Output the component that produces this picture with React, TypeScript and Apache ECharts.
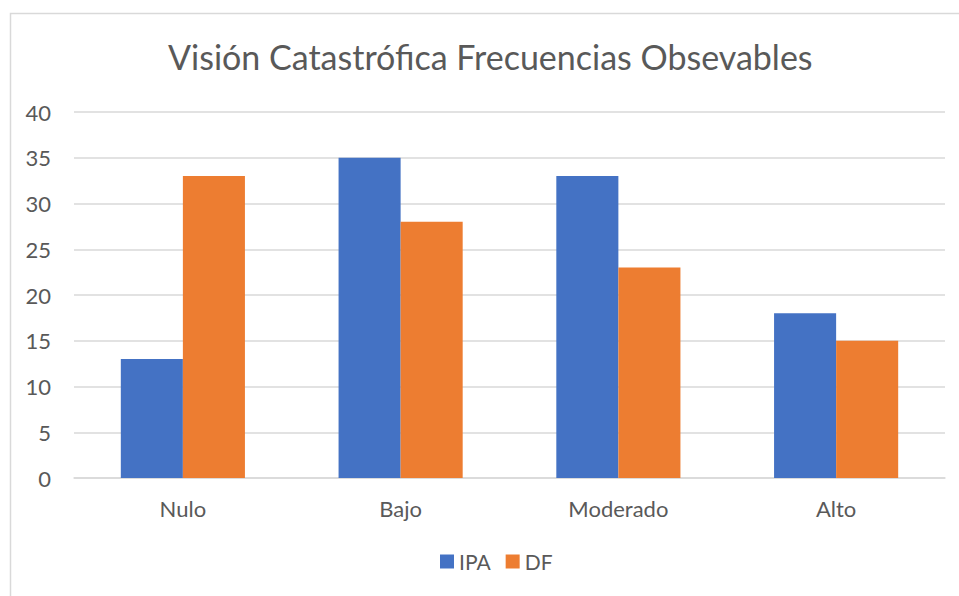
import React, { useEffect, useRef } from "react";
import * as echarts from "echarts";

const categories = ["Nulo", "Bajo", "Moderado", "Alto"];
const ipaValues = [13, 35, 33, 18];
const dfValues = [33, 28, 23, 15];
const seriesNames = ["IPA", "DF"];
const titleText = "Visión Catastrófica Frecuencias Obsevables";

const FONT = "Lato, 'Noto Sans', sans-serif";
const TEXT = "#595959";
const GRID = "#D9D9D9";

export default function App() {
  const ref = useRef<HTMLDivElement>(null);
  useEffect(() => {
    if (!ref.current) return;
    const chart = echarts.init(ref.current, null, { renderer: "svg" });
    chart.setOption({
      animation: false,
      backgroundColor: "#ffffff",
      textStyle: { fontFamily: FONT },
      graphic: [
        {
          type: "rect",
          shape: { x: 10.5, y: 13.5, width: 970, height: 600 },
          style: { fill: "none", stroke: GRID, lineWidth: 1.5 },
          silent: true,
        },
      ],
      title: {
        text: titleText,
        left: 168,
        top: 39,
        padding: 0,
        textStyle: { fontFamily: FONT, fontSize: 34, fontWeight: "normal", color: TEXT },
      },
      legend: {
        data: seriesNames,
        left: 440,
        top: 551,
        padding: 0,
        itemWidth: 14,
        itemHeight: 14,
        itemGap: 15,
        icon: "rect",
        textStyle: { fontFamily: FONT, fontSize: 21, color: TEXT },
      },
      grid: { left: 74, right: 14, top: 112, bottom: 118, containLabel: false },
      xAxis: {
        type: "category",
        data: categories,
        axisLine: { show: true, lineStyle: { color: GRID, width: 1.5 } },
        axisTick: { show: false },
        axisLabel: { fontFamily: FONT, fontSize: 22, color: TEXT, margin: 19 },
      },
      yAxis: {
        type: "value",
        min: 0,
        max: 40,
        interval: 5,
        axisLine: { show: false },
        axisTick: { show: false },
        splitLine: { lineStyle: { color: GRID, width: 1.5 } },
        axisLabel: { fontFamily: FONT, fontSize: 22, color: TEXT, margin: 23 },
      },
      series: [
        {
          name: seriesNames[0],
          type: "bar",
          data: ipaValues,
          itemStyle: { color: "#4472C4" },
          barGap: "0%",
          barCategoryGap: "43%",
        },
        {
          name: seriesNames[1],
          type: "bar",
          data: dfValues,
          itemStyle: { color: "#ED7D31" },
          barGap: "0%",
          barCategoryGap: "43%",
        },
      ],
    });
    return () => chart.dispose();
  }, []);
  return (
    <div
      ref={ref}
      style={{ position: "fixed", left: 0, top: 0, width: 959, height: 596 }}
    />
  );
}
